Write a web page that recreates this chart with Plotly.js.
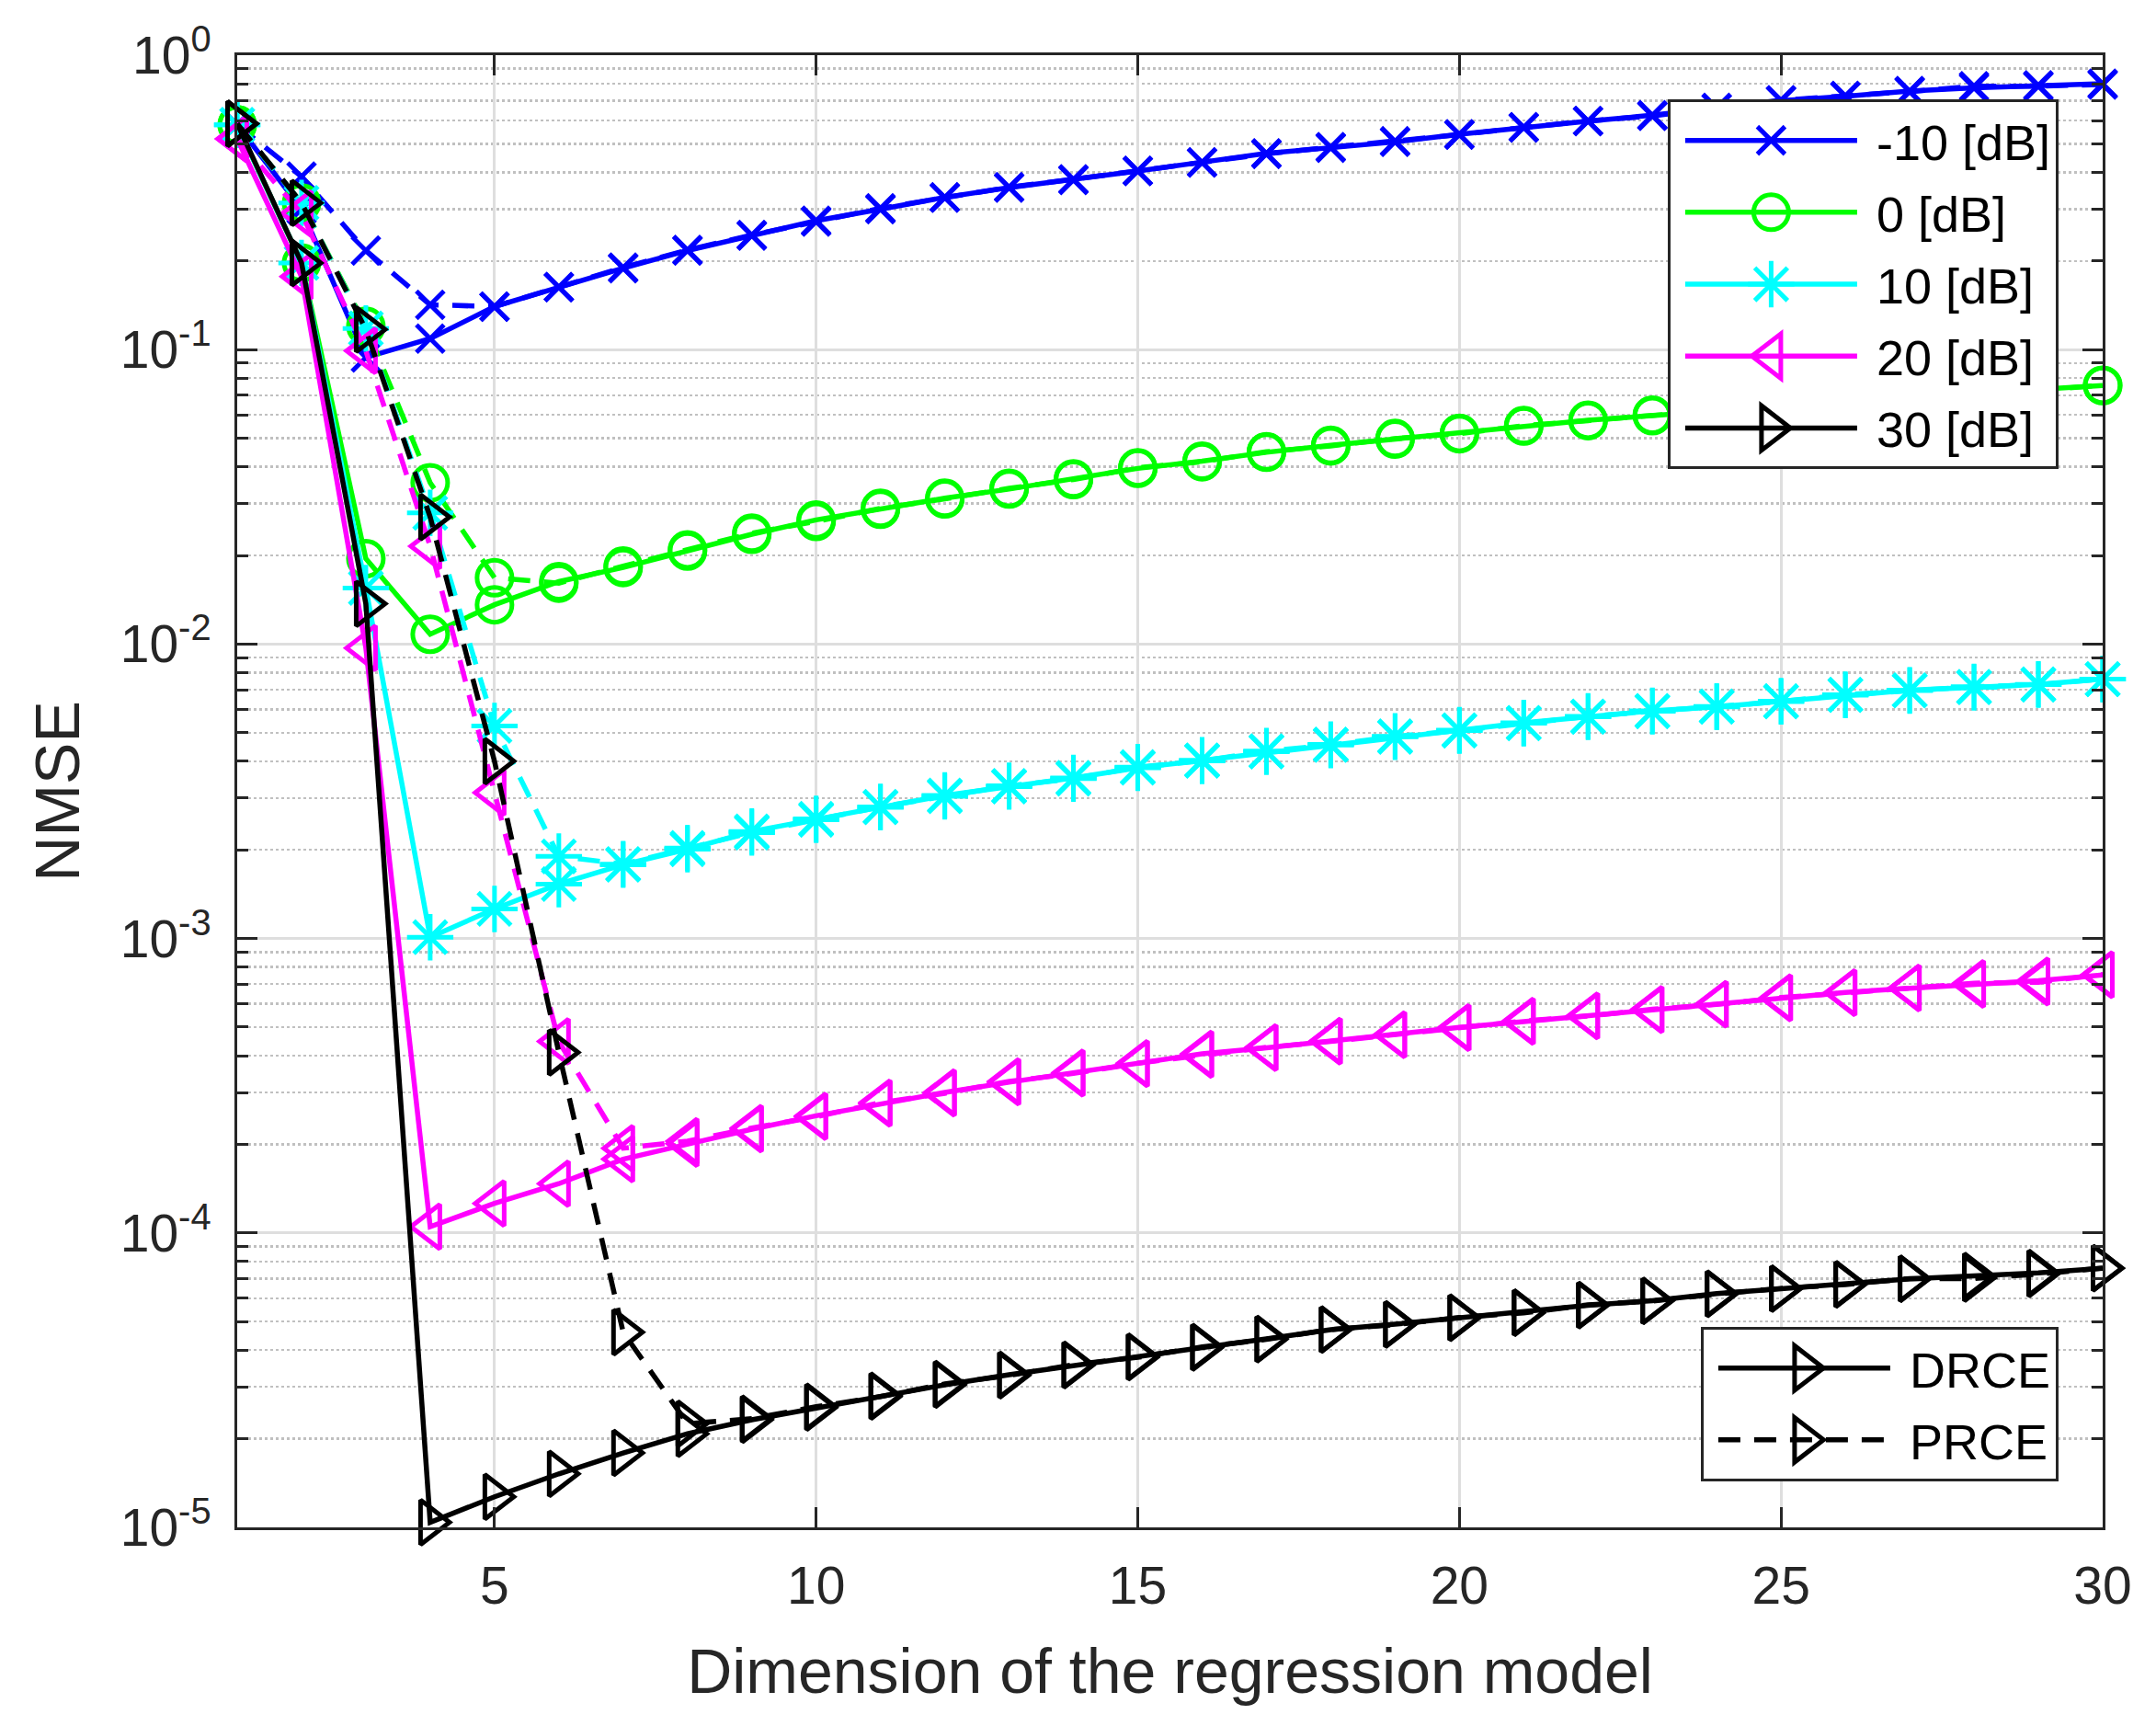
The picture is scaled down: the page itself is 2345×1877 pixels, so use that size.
<!DOCTYPE html>
<html>
<head>
<meta charset="utf-8">
<script src="https://cdn.plot.ly/plotly-3.0.1.min.js"></script>
<style>
  html, body { margin: 0; padding: 0; background: #ffffff; }
  #chart { width: 2345px; height: 1877px; }
</style>
</head>
<body>
<div id="chart"></div>
<script>
// ---- data ----
var dims = [1,2,3,4,5,6,7,8,9,10,11,12,13,14,15,16,17,18,19,20,21,22,23,24,25,26,27,28,29,30];

var snrLabels = ['-10 [dB]', '0 [dB]', '10 [dB]', '20 [dB]', '30 [dB]'];
var methodLabels = ['DRCE', 'PRCE'];

var drce_m10 = [0.58, 0.30, 0.094, 0.109, 0.140, 0.163, 0.189, 0.217, 0.244, 0.274, 0.300, 0.329, 0.355, 0.377, 0.404, 0.433, 0.464, 0.485, 0.508, 0.539, 0.570, 0.597, 0.625, 0.660, 0.700, 0.725, 0.755, 0.775, 0.790, 0.800];
var prce_m10 = [0.58, 0.387, 0.217, 0.142, 0.140, 0.163, 0.190, 0.218, 0.245, 0.272, 0.302, 0.328, 0.356, 0.379, 0.405, 0.432, 0.462, 0.487, 0.510, 0.537, 0.568, 0.598, 0.622, 0.662, 0.703, 0.728, 0.752, 0.785, 0.785, 0.795];

var drce_0 = [0.58, 0.197, 0.0195, 0.0108, 0.0136, 0.0163, 0.0182, 0.0207, 0.0236, 0.0264, 0.0287, 0.0313, 0.0336, 0.0364, 0.0395, 0.0418, 0.0448, 0.0473, 0.0497, 0.0520, 0.0550, 0.0576, 0.0597, 0.0620, 0.0650, 0.0670, 0.0690, 0.0710, 0.0730, 0.0755];
var prce_0 = [0.58, 0.315, 0.120, 0.0353, 0.0168, 0.0161, 0.0184, 0.0209, 0.0238, 0.0261, 0.0289, 0.0311, 0.0338, 0.0362, 0.0397, 0.0416, 0.0450, 0.0471, 0.0499, 0.0518, 0.0552, 0.0574, 0.0599, 0.0622, 0.0648, 0.0672, 0.0688, 0.0712, 0.0728, 0.0757];

var drce_10 = [0.58, 0.197, 0.0155, 0.00101, 0.00126, 0.00153, 0.00178, 0.00201, 0.00231, 0.00255, 0.00279, 0.00306, 0.00328, 0.00351, 0.00380, 0.00403, 0.00431, 0.00456, 0.00484, 0.00510, 0.00540, 0.00566, 0.00593, 0.00612, 0.00640, 0.00671, 0.00697, 0.00713, 0.00730, 0.00760];
var prce_10 = [0.58, 0.315, 0.118, 0.0279, 0.00527, 0.00190, 0.00179, 0.00203, 0.00229, 0.00253, 0.00280, 0.00304, 0.00330, 0.00349, 0.00382, 0.00401, 0.00433, 0.00454, 0.00486, 0.00508, 0.00538, 0.00568, 0.00591, 0.00614, 0.00638, 0.00673, 0.00695, 0.00716, 0.00728, 0.00760];

var drce_20 = [0.52, 0.177, 0.0097, 1.05e-4, 1.26e-4, 1.47e-4, 1.78e-4, 2.01e-4, 2.25e-4, 2.50e-4, 2.75e-4, 3.00e-4, 3.25e-4, 3.50e-4, 3.75e-4, 4.06e-4, 4.25e-4, 4.49e-4, 4.70e-4, 4.99e-4, 5.22e-4, 5.47e-4, 5.72e-4, 5.99e-4, 6.27e-4, 6.56e-4, 6.78e-4, 6.97e-4, 7.19e-4, 7.52e-4];
var prce_20 = [0.52, 0.29, 0.099, 0.0215, 0.00313, 4.47e-4, 1.94e-4, 2.05e-4, 2.27e-4, 2.48e-4, 2.77e-4, 2.98e-4, 3.27e-4, 3.48e-4, 3.77e-4, 4.03e-4, 4.27e-4, 4.47e-4, 4.72e-4, 4.97e-4, 5.25e-4, 5.45e-4, 5.75e-4, 5.97e-4, 6.30e-4, 6.53e-4, 6.80e-4, 7.05e-4, 7.10e-4, 7.55e-4];

var drce_30 = [0.585, 0.197, 0.0137, 1.04e-5, 1.27e-5, 1.52e-5, 1.79e-5, 2.08e-5, 2.32e-5, 2.55e-5, 2.80e-5, 3.05e-5, 3.30e-5, 3.55e-5, 3.80e-5, 4.08e-5, 4.37e-5, 4.69e-5, 4.90e-5, 5.14e-5, 5.37e-5, 5.68e-5, 5.89e-5, 6.22e-5, 6.46e-5, 6.70e-5, 6.98e-5, 7.15e-5, 7.32e-5, 7.59e-5];
var prce_30 = [0.585, 0.315, 0.117, 0.027, 0.0040, 4.1e-4, 4.6e-5, 2.25e-5, 2.34e-5, 2.57e-5, 2.78e-5, 3.07e-5, 3.28e-5, 3.57e-5, 3.78e-5, 4.10e-5, 4.35e-5, 4.70e-5, 4.88e-5, 5.16e-5, 5.35e-5, 5.70e-5, 5.87e-5, 6.20e-5, 6.48e-5, 6.68e-5, 7.00e-5, 7.00e-5, 7.25e-5, 7.60e-5];

var xTickVals = [5, 10, 15, 20, 25, 30];
var yTickVals = [1e-5, 1e-4, 1e-3, 1e-2, 1e-1, 1];
var yTickText = ['10<sup>-5</sup>', '10<sup>-4</sup>', '10<sup>-3</sup>', '10<sup>-2</sup>', '10<sup>-1</sup>', '10<sup>0</sup>'];

// ---- styles ----
var FONT = 'Liberation Sans, Arial, Helvetica, sans-serif';
var INK = '#262626';
var LW = 5.5;
var MLW = 5;
var DASH = '24px,15px';
var LEG_LINE_START = 16;   // px inside legend item
var LEG_LINE_LEN = 187;    // px

var series = [
  { name: snrLabels[0], color: '#0000ff', symbol: 'x-thin-open', size: 30, d: drce_m10, p: prce_m10 },
  { name: snrLabels[1], color: '#00ff00', symbol: 'circle-open', size: 38, d: drce_0, p: prce_0 },
  { name: snrLabels[2], color: '#00ffff', symbol: 'asterisk-open', size: 42, d: drce_10, p: prce_10 },
  { name: snrLabels[3], color: '#ff00ff', symbol: 'triangle-left-open', size: 42, d: drce_20, p: prce_20 },
  { name: snrLabels[4], color: '#000000', symbol: 'triangle-right-open', size: 42, d: drce_30, p: prce_30 }
];

var traces = [];
series.forEach(function (s, i) {
  var mk = { symbol: s.symbol, size: s.size, color: s.color, line: { color: s.color, width: MLW } };
  traces.push({
    type: 'scatter', mode: 'lines+markers', x: dims, y: s.d, name: s.name,
    legend: 'legend', legendgroup: 'g' + i, showlegend: true,
    line: { color: s.color, width: LW, dash: 'solid' }, marker: mk, cliponaxis: false
  });
  traces.push({
    type: 'scatter', mode: 'lines+markers', x: dims, y: s.p, name: s.name + ' PRCE',
    showlegend: false,
    line: { color: s.color, width: LW, dash: DASH }, marker: mk, cliponaxis: false
  });
});

// method legend entries (legend only, no data)
var blackMk = { symbol: 'triangle-right-open', size: 42, color: '#000000', line: { color: '#000000', width: MLW } };
traces.push({
  type: 'scatter', mode: 'lines+markers', x: [null], y: [null], name: methodLabels[0],
  legend: 'legend2', legendgroup: 'm0', line: { color: '#000000', width: LW, dash: 'solid' }, marker: blackMk
});
traces.push({
  type: 'scatter', mode: 'lines+markers', x: [null], y: [null], name: methodLabels[1],
  legend: 'legend2', legendgroup: 'm1', line: { color: '#000000', width: LW, dash: DASH }, marker: blackMk
});

var legendCommon = {
  bgcolor: '#ffffff', bordercolor: INK, borderwidth: 3,
  font: { family: FONT, size: 54, color: '#000000' },
  itemwidth: 214, traceorder: 'grouped', tracegroupgap: 5,
  xanchor: 'right'
};

var layout = {
  width: 2345, height: 1877,
  margin: { l: 258, r: 58, t: 60, b: 216, pad: 0 },
  paper_bgcolor: '#ffffff', plot_bgcolor: '#ffffff',
  font: { family: FONT, color: INK, size: 57 },
  showlegend: true,
  xaxis: {
    type: 'linear', range: [1, 30], autorange: false,
    tickmode: 'array', tickvals: xTickVals,
    ticks: 'inside', ticklen: 22, tickwidth: 3, tickcolor: INK,
    showline: true, linecolor: INK, linewidth: 3, mirror: 'allticks',
    showgrid: true, gridcolor: '#dedede', gridwidth: 3,
    zeroline: false,
    tickfont: { family: FONT, size: 57, color: INK },
    ticklabelstandoff: 12,
    title: { text: 'Dimension of the regression model', font: { family: FONT, size: 68, color: INK }, standoff: 38 }
  },
  yaxis: {
    type: 'log', range: [-5, 0], autorange: false,
    tickmode: 'array', tickvals: yTickVals, ticktext: yTickText,
    ticks: 'inside', ticklen: 22, tickwidth: 3, tickcolor: INK,
    showline: true, linecolor: INK, linewidth: 3, mirror: 'allticks',
    showgrid: true, gridcolor: '#dedede', gridwidth: 3,
    zeroline: false,
    tickfont: { family: FONT, size: 57, color: INK },
    ticklabelstandoff: 14,
    minor: { dtick: 'D1', ticks: 'inside', ticklen: 12, tickwidth: 3, tickcolor: INK,
             showgrid: true, gridcolor: '#c0c0c0', gridwidth: 2.5, griddash: 'dot' },
    title: { text: 'NMSE', font: { family: FONT, size: 68, color: INK }, standoff: 22 }
  },
  legend: Object.assign({}, legendCommon, { x: 0.9763, y: 0.970, yanchor: 'top' }),
  legend2: Object.assign({}, legendCommon, { x: 0.9763, y: 0.0312, yanchor: 'bottom' })
};

// Legend symbols in Plotly are size-capped; give them the same symbol path and
// stroke as the plotted markers/lines of the trace they stand for.
function restyleLegendSymbols(gd) {
  var plotMarker = {};
  gd.querySelectorAll('.scatterlayer g.trace').forEach(function (g) {
    var cd = g.__data__; if (!cd || !cd[0] || !cd[0].trace) return;
    var idx = cd[0].trace.index;
    var pt = g.querySelector('.points path.point');
    if (pt) plotMarker[idx] = pt;
  });
  // legend2 entries (no data) borrow the 30 dB DRCE marker
  var fallbackIdx = 8;
  gd.querySelectorAll('g.traces').forEach(function (g) {
    var d = g.__data__; if (!d || !d[0] || !d[0].trace) return;
    var tr = d[0].trace;
    var src = plotMarker[tr.index] || plotMarker[fallbackIdx];
    var lp = g.querySelector('.legendpoints path.scatterpts');
    if (lp && src) {
      lp.setAttribute('d', src.getAttribute('d'));
      lp.setAttribute('transform', 'translate(' + (LEG_LINE_START + LEG_LINE_LEN / 2) + ',0)');
      lp.style.strokeWidth = MLW + 'px';
    }
    var ll = g.querySelector('.legendlines path');
    if (ll) {
      ll.setAttribute('d', 'M' + LEG_LINE_START + ',0h' + LEG_LINE_LEN);
      ll.style.strokeWidth = LW + 'px';
      if (tr.line && tr.line.dash && tr.line.dash !== 'solid') ll.style.strokeDasharray = tr.line.dash;
      else ll.style.strokeDasharray = '';
    }
  });
}

Plotly.newPlot('chart', traces, layout, { staticPlot: true, displayModeBar: false })
  .then(function (gd) { restyleLegendSymbols(gd); });
</script>
</body>
</html>
